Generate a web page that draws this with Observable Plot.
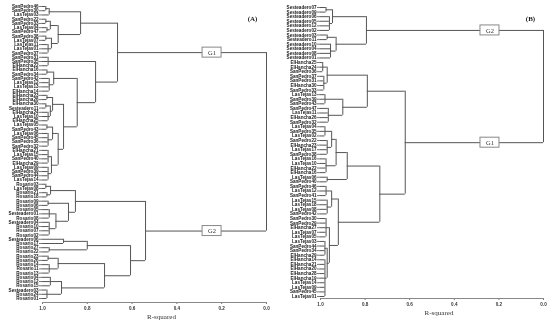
<!DOCTYPE html>
<html><head><meta charset="utf-8">
<script src="https://cdn.jsdelivr.net/npm/d3@7"></script>
<script src="https://cdn.jsdelivr.net/npm/@observablehq/plot@0.6"></script>
<style>
body{margin:0;background:#fff;}
#wrap{display:flex;width:550px;height:325px;overflow:hidden;}
#wrap svg{will-change:transform;}
</style></head><body><div id="wrap"></div>
<script>
const xTicks = [1.0, 0.8, 0.6, 0.4, 0.2, 0.0];
const leavesA = ["SanPedro46","SanPedro30","LasTejas03","SanPedro22","SanPedro33","LasTejas04","SanPedro47","SanPedro38","LasTejas07","LasTejas11","LasTejas01","SanPedro37","SanPedro31","SanPedro35","ElHancha22","ElHancha16","SanPedro34","SanPedro42","LasTejas12","LasTejas13","ElHancha14","ElHancha23","ElHancha26","ElHancha30","Sesteadero11","ElHancha24","LasTejas10","ElHancha25","LasTejas05","SanPedro43","LasTejas06","SanPedro45","SanPedro36","SanPedro32","ElHancha21","LasTejas15","SanPedro40","ElHancha29","LasTejas09","SanPedro39","SanPedro44","LasTejas14","Rosario03","LasTejas08","Rosario21","Rosario18","Rosario09","Rosario06","Rosario05","Sesteadero01","Rosario08","Sesteadero04","Rosario10","Rosario07","Rosario02","Sesteadero06","Rosario17","Rosario27","Rosario22","Rosario23","Rosario26","Rosario14","Rosario11","Rosario13","Rosario04","Rosario12","Rosario15","Sesteadero03","Rosario24","Rosario01"];
// merges: [id, children (leaf index or merge id), R-squared at the join]
const nodesA = [
["a1",[0,1],0.985],["a2",["a1",2],0.97],
["a3",[3,4],0.985],["a4",[5,6],0.98],["a5",["a3","a4"],0.965],
["a6",[7,8],0.985],["a7",[9,10,11],0.975],["a8",["a6","a7"],0.96],
["a9",["a5","a8"],0.93],["T",["a2","a9"],0.83],
["f1",[12,13,14],0.975],
["g1a",[15,16],0.98],["g1b",[17,18,19,20],0.97],["g1",["g1a","g1b"],0.95],
["h1a",[21,22],0.98],["h1b",[23,24],0.985],["h1c",[25,26,27],0.975],["h1d",["h1b","h1c"],0.965],["h1",["h1a","h1d"],0.955],
["i1a",[28,29],0.98],["i1b",[30,31,32,33],0.975],["i1",["i1a","i1b"],0.955],
["i2a",[34,35,36,37],0.975],["i2b",[38,39,40,41],0.975],["i2",["i2a","i2b"],0.96],
["h2",["i1","i2"],0.93],["g2",["h1","h2"],0.906],["f2",["g1","g2"],0.845],["Bm",["f1","f2"],0.763],
["G1",["T","Bm"],0.665],
["ca1",[42,43],0.985],["ca2",[44,45],0.98],["ca",["ca1","ca2"],0.964],
["d1",[46,47],0.975],["d2a",[48,49,50],0.97],["d2b",[51,52,53,54],0.97],["d2",["d2a","d2b"],0.94],["cb",["d1","d2"],0.884],
["G2t",["ca","cb"],0.853],
["p2",[55,56],0.906],["p3",[57,58],0.97],["q1",["p2","p3"],0.8],
["r1a",[59,60],0.975],["r1b",[61,62,63],0.97],["r1",["r1a","r1b"],0.93],
["r2a",[64,65,66],0.965],["r2b",[67,68,69],0.98],["r2",["r2a","r2b"],0.915],
["q2",["r1","r2"],0.723],["G2b",["q1","q2"],0.607],["G2",["G2t","G2b"],0.54],
["root",["G1","G2"],0]
];
const groupsA = [{label:"G1", node:"G1", r2:0.243},{label:"G2", node:"G2", r2:0.243}];

const leavesB = ["Sesteadero07","Sesteadero09","Sesteadero06","Sesteadero05","Sesteadero12","Sesteadero02","Sesteadero03","Sesteadero11","Sesteadero10","Sesteadero04","Sesteadero08","Sesteadero01","ElHancha25","ElHancha24","SanPedro36","SanPedro37","SanPedro31","ElHancha30","SanPedro33","LasTejas13","SanPedro39","SanPedro43","SanPedro47","LasTejas11","ElHancha26","SanPedro32","LasTejas04","SanPedro35","LasTejas02","SanPedro22","ElHancha23","LasTejas17","SanPedro38","LasTejas16","LasTejas10","ElHancha22","ElHancha16","LasTejas06","SanPedro40","SanPedro46","LasTejas12","SanPedro41","LasTejas15","LasTejas18","LasTejas08","SanPedro42","SanPedro30","SanPedro29","ElHancha27","LasTejas07","LasTejas05","LasTejas03","SanPedro44","SanPedro34","ElHancha29","ElHancha14","ElHancha21","ElHancha20","ElHancha28","ElHancha19","LasTejas14","LasTejas09","SanPedro45","LasTejas01"];
const nodesB = [
["s1",[0,1],0.975],["s2",[2,3,4,5],0.96],["s3",["s1","s2"],0.946],
["s4",[6,7],0.97],["s5",[8,9,10,11],0.955],["s6",["s4","s5"],0.93],["G2",["s3","s6"],0.794],
["u1a",[12,13,14],0.99],["u1b",[15,16,17,18],0.985],["U1",["u1a","u1b"],0.97],
["u2a",[19,20,21],0.98],["u2b",[22,23,24,25],0.965],["U2",["u2a","u2b"],0.9],
["Tp",["U1","U2"],0.79],
["w1a",[26,27,28],0.98],["w1b",[29,30,31,32],0.97],["w1c",["w1a","w1b"],0.95],["w1d",[33,34,35,36],0.975],["W1",["w1c","w1d"],0.93],
["W2",[37,38],0.97],["V1",["W1","W2"],0.88],
["x1a",[39,40,41],0.975],["x1b",[42,43,44,45],0.97],["X1",["x1a","x1b"],0.95],
["x2a",[46,47,48,49,50],0.975],["x2b",[51,52,53,54],0.98],["x2c",[55,56,57,58,59,60,61,62,63],0.98],["x2d",["x2b","x2c"],0.97],["X2",["x2a","x2d"],0.96],
["V2",["X1","X2"],0.92],["Bt",["V1","V2"],0.734],
["G1",["Tp","Bt"],0.62],
["root",["G2","G1"],0]
];
const groupsB = [{label:"G2", node:"G2", r2:0.24},{label:"G1", node:"G1", r2:0.24}];

function layout(leaves, nodes) {
  const pos = new Map(), hgt = new Map();
  const P = k => typeof k === "number" ? k : pos.get(k);
  const H = k => typeof k === "number" ? 1 : hgt.get(k);
  const verts = [], hors = [];
  for (const [id, kids, h] of nodes) {
    const ys = kids.map(P);
    const lo = d3.min(ys), hi = d3.max(ys);
    pos.set(id, (lo + hi) / 2); hgt.set(id, h);
    verts.push({x: h, y1: lo, y2: hi});
    for (const k of kids) hors.push({y: P(k), x1: H(k), x2: h});
  }
  return {pos, verts, hors};
}

function panel({leaves, nodes, groups, tag, mL, mR, yTop, yBot, mB, tagDx}) {
  const L = layout(leaves, nodes);
  const n = leaves.length;
  const pxX = 275 - mL - mR, pxY = (yBot - yTop) / (n - 1);
  const boxes = groups.map(g => ({...g, y: L.pos.get(g.node)}));
  const bw = 9.5 / pxX, bh = 5 / pxY;
  return Plot.plot({
    width: 275, height: 325, marginLeft: mL, marginRight: mR, marginTop: 0, marginBottom: mB,
    style: {background: "#fff", fontFamily: "Liberation Sans, Arial, sans-serif", overflow: "visible"},
    x: {domain: [1, 0]},
    y: {domain: [0, n - 1], range: [yTop, yBot]},
    marks: [
      Plot.axisY(d3.range(n), {tickFormat: i => leaves[i], fontSize: 4.6, fontWeight: "bold", tickSize: 3, tickPadding: 1, stroke: "#777", fill: "#222", label: null}),
      Plot.axisX(xTicks, {tickFormat: d3.format(".1f"), fontSize: 4.6, fontWeight: "bold", tickSize: 2, tickPadding: 2, stroke: "#777", fill: "#333", label: null}),
      Plot.frame({anchor: "bottom", stroke: "#888"}),
      Plot.ruleX(L.verts, {x: "x", y1: "y1", y2: "y2", stroke: "#555", strokeWidth: 1}),
      Plot.ruleY(L.hors, {y: "y", x1: "x1", x2: "x2", stroke: "#555", strokeWidth: 1}),
      Plot.rect(boxes, {x1: d => d.r2 + bw, x2: d => d.r2 - bw, y1: d => d.y - bh, y2: d => d.y + bh, fill: "#fff", stroke: "#888", strokeWidth: 1}),
      Plot.text(boxes, {x: "r2", y: "y", text: "label", fontFamily: "Liberation Serif, serif", fontSize: 6.5, fill: "#333"}),
      Plot.text([tag], {frameAnchor: "top-right", dx: tagDx, dy: 16, fontFamily: "Liberation Serif, serif", fontWeight: "bold", fontSize: 7, fill: "#222", textAnchor: "middle"}),
      Plot.text(["R-squared"], {frameAnchor: "bottom", dx: 7, dy: 16, fontFamily: "Liberation Serif, serif", fontSize: 7, fill: "#333"})
    ]
  });
}

const wrap = document.getElementById("wrap");
wrap.append(panel({leaves: leavesA, nodes: nodesA, groups: groupsA, tag: "(A)", mL: 42, mR: 9, yTop: 6, yBot: 298, mB: 23, tagDx: -14}));
wrap.append(panel({leaves: leavesB, nodes: nodesB, groups: groupsB, tag: "(B)", mL: 45, mR: 7, yTop: 7, yBot: 296, mB: 27, tagDx: -13}));
</script></body></html>
